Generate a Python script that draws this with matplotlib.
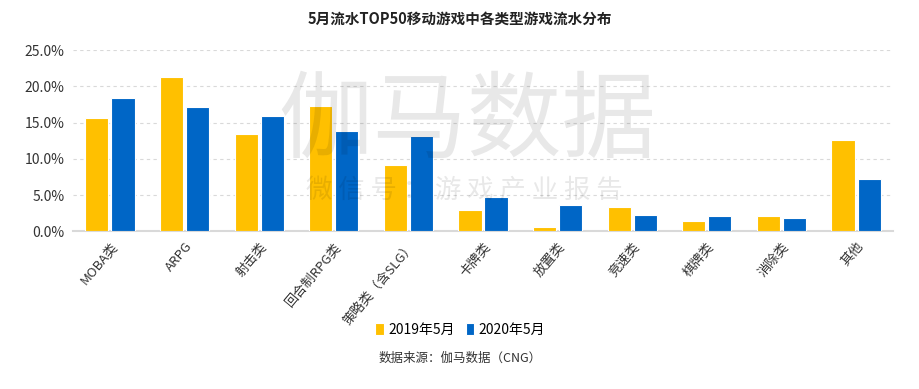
import matplotlib.pyplot as plt
import numpy as np

plt.rcParams['font.family'] = ['Noto Sans CJK SC', 'DejaVu Sans']

# data (%)
categories = ['MOBA类', 'ARPG', '射击类', '回合制RPG类', '策略类（含SLG）', '卡牌类',
              '放置类', '竞速类', '棋牌类', '消除类', '其他']
share2019 = [15.6, 21.3, 13.5, 17.3, 9.2, 3.0, 0.6, 3.4, 1.4, 2.1, 12.6]
share2020 = [18.4, 17.1, 15.9, 13.9, 13.1, 4.7, 3.6, 2.3, 2.2, 1.9, 7.3]
series_labels = ['2019年5月', '2020年5月']
yticks = [0, 5, 10, 15, 20, 25]

fig = plt.figure(figsize=(9.2, 3.89), dpi=100)
ax = fig.add_axes([0.079, 0.405, 0.892, 0.466])

x = np.arange(len(categories))
width = 0.31
ax.bar(x - width / 2 - 0.02, share2019, width, color='#FFC000', edgecolor='white', linewidth=0.8,
       label=series_labels[0], zorder=3)
ax.bar(x + width / 2 + 0.02, share2020, width, color='#0066C6', edgecolor='white', linewidth=0.8,
       label=series_labels[1], zorder=3)

ax.set_xlim(-0.5, len(categories) - 0.5)
ax.set_ylim(0, 25)
ax.set_yticks(yticks)
ax.set_yticklabels(['%.1f%%' % v for v in yticks], fontsize=10, color='#333333')
ax.set_xticks(x)
ax.set_xticklabels(categories, rotation=50, ha='right', rotation_mode='anchor', fontsize=9.5, color='#333333')
ax.tick_params(axis='both', length=0, pad=6)
ax.grid(axis='y', linestyle=(0, (3, 3)), color='#D9D9D9', linewidth=0.8, zorder=0)
for s in ['top', 'right', 'left']:
    ax.spines[s].set_visible(False)
ax.spines['bottom'].set_color('#D9D9D9')
ax.spines['bottom'].set_linewidth(1.5)

# watermark, semi-transparent over the bars
ax.text(0.508, 0.685, '伽马数据', fontsize=68, color='black', alpha=0.09, ha='center', va='center',
        transform=fig.transFigure, zorder=5)
ax.text(0.505, 0.51, '微 信 号 ： 游 戏 产 业 报 告', fontsize=19, color='black', alpha=0.09,
        ha='center', va='center', transform=fig.transFigure, zorder=5)

fig.text(0.5, 0.953, '5月流水TOP50移动游戏中各类型游戏流水分布', fontsize=10.5, fontweight='bold',
         ha='center', va='center', color='#222222')

fig.legend(loc='center', bbox_to_anchor=(0.5, 0.152), ncol=2, frameon=False, fontsize=10,
           handlelength=0.6, handleheight=0.9, handletextpad=0.3, columnspacing=0.8)
fig.text(0.5, 0.08, '数据来源：伽马数据（CNG）', fontsize=9, ha='center', va='center', color='#333333')

fig.savefig('out.png', dpi=100)
